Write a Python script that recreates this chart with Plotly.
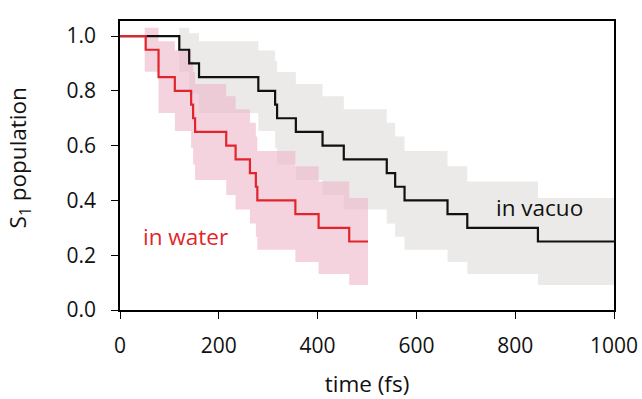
import plotly.graph_objects as go

# ---- data ----
# in vacuo: step times (fs) and S1 population
vac_t = [0, 120, 140, 160, 280, 314, 318, 356, 410, 453, 540, 557, 576, 663, 703, 846, 1000]
vac_p = [1.0, 0.95, 0.90, 0.85, 0.80, 0.75, 0.70, 0.65, 0.60, 0.55, 0.50, 0.45, 0.40, 0.35, 0.30, 0.25, 0.25]
# in vacuo confidence band (from first decay onward)
vac_band_t = [120, 140, 160, 280, 314, 318, 356, 410, 453, 540, 557, 576, 663, 703, 846, 1000]
vac_lo = [0.870, 0.790, 0.719, 0.653, 0.591, 0.531, 0.475, 0.420, 0.367, 0.316, 0.267, 0.220, 0.175, 0.131, 0.091, 0.091]
vac_hi = [1.030, 1.010, 0.981, 0.947, 0.909, 0.869, 0.825, 0.780, 0.733, 0.684, 0.633, 0.580, 0.525, 0.469, 0.409, 0.409]

# in water
wat_t = [0, 52, 78, 111, 144, 148, 152, 215, 234, 263, 275, 278, 355, 402, 464, 502]
wat_p = [1.0, 0.95, 0.85, 0.80, 0.75, 0.70, 0.65, 0.60, 0.55, 0.50, 0.45, 0.40, 0.35, 0.30, 0.25, 0.25]
wat_band_t = [50, 78, 111, 144, 148, 152, 215, 234, 263, 275, 278, 355, 402, 464, 502]
wat_lo = [0.870, 0.719, 0.653, 0.591, 0.531, 0.475, 0.420, 0.367, 0.316, 0.267, 0.220, 0.175, 0.131, 0.091, 0.091]
wat_hi = [1.030, 0.981, 0.947, 0.909, 0.869, 0.825, 0.780, 0.733, 0.684, 0.633, 0.580, 0.525, 0.469, 0.409, 0.409]

x_ticks = [0, 200, 400, 600, 800, 1000]
y_ticks = [0.0, 0.2, 0.4, 0.6, 0.8, 1.0]

FONT = "Open Sans"
GRAY_FILL = "#EBEAE9"
PINK_FILL = "rgba(236,182,202,0.6)"
RED = "#E1252D"
BLACK = "#111111"

fig = go.Figure()

# gray band (in vacuo)
fig.add_trace(go.Scatter(x=vac_band_t, y=vac_lo, mode="lines", line=dict(width=0, shape="hv"),
                         showlegend=False, hoverinfo="skip"))
fig.add_trace(go.Scatter(x=vac_band_t, y=vac_hi, mode="lines", line=dict(width=0, shape="hv"),
                         fill="tonexty", fillcolor=GRAY_FILL, showlegend=False, hoverinfo="skip"))
# pink band (in water)
fig.add_trace(go.Scatter(x=wat_band_t, y=wat_lo, mode="lines", line=dict(width=0, shape="hv"),
                         showlegend=False, hoverinfo="skip"))
fig.add_trace(go.Scatter(x=wat_band_t, y=wat_hi, mode="lines", line=dict(width=0, shape="hv"),
                         fill="tonexty", fillcolor=PINK_FILL, showlegend=False, hoverinfo="skip"))

# step curves
fig.add_trace(go.Scatter(x=vac_t, y=vac_p, mode="lines", name="in vacuo",
                         line=dict(color=BLACK, width=2.2, shape="hv"), showlegend=False))
fig.add_trace(go.Scatter(x=wat_t, y=wat_p, mode="lines", name="in water",
                         line=dict(color=RED, width=2.2, shape="hv"), showlegend=False))

fig.add_annotation(x=133, y=0.27, text="in water", showarrow=False,
                   font=dict(family=FONT, size=22.5, color=RED), xanchor="center", yanchor="middle")
fig.add_annotation(x=850, y=0.375, text="in vacuo", showarrow=False,
                   font=dict(family=FONT, size=22.5, color="#111111"), xanchor="center", yanchor="middle")
# y-axis title
fig.add_annotation(xref="paper", yref="paper", x=-0.205, y=0.527, text="S<sub>1</sub> population",
                   textangle=-90, showarrow=False, xanchor="center", yanchor="middle",
                   font=dict(family=FONT, size=22.5, color="#111111"))

axis_common = dict(showline=True, linecolor="black", linewidth=1.5, mirror=True,
                   ticks="outside", ticklen=7, tickwidth=1.3, tickcolor="black",
                   showgrid=False, zeroline=False, automargin=False,
                   tickfont=dict(family=FONT, size=21, color="#111111"))

fig.update_layout(
    width=642, height=399,
    margin=dict(l=120, r=28, t=21, b=89),
    plot_bgcolor="white", paper_bgcolor="white",
    xaxis=dict(range=[0, 1000], tickvals=x_ticks, ticktext=[str(v) for v in x_ticks],
               title=dict(text="time (fs)", font=dict(family=FONT, size=22.5, color="#111111"), standoff=24),
               ticklabelstandoff=9, **axis_common),
    yaxis=dict(range=[0, 1.055], tickvals=y_ticks, ticktext=[f"{v:.1f}" for v in y_ticks],
               ticklabelstandoff=11, **axis_common),
)

fig.write_html("out.html")
